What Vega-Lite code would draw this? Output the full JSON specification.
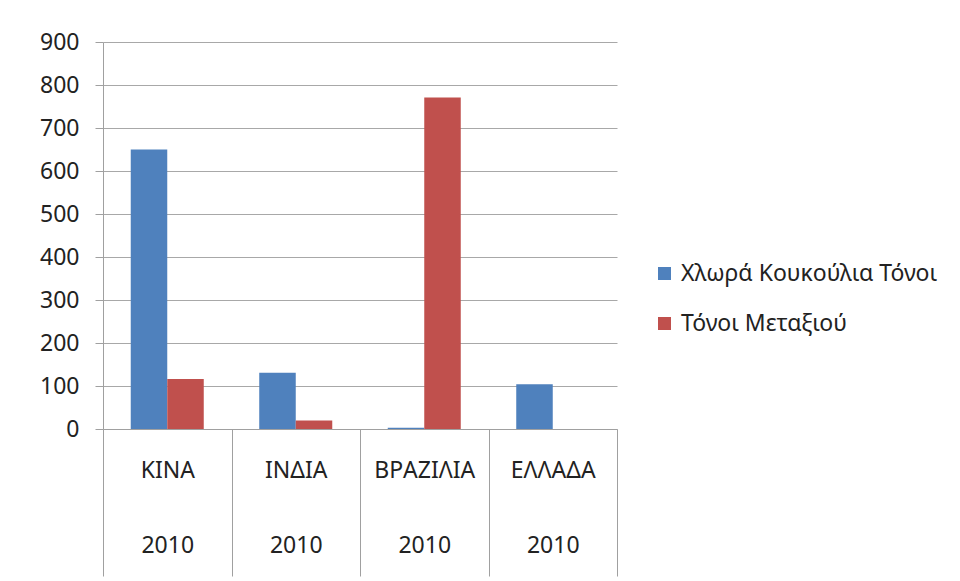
{
  "$schema": "https://vega.github.io/schema/vega-lite/v6.json",
  "width": 514,
  "height": 387,
  "autosize": {"type": "none"},
  "padding": {"left": 103, "top": 42, "right": 343, "bottom": 152},
  "background": "white",
  "data": {
    "values": [
      {"country": "ΚΙΝΑ", "year": "2010", "series": "Χλωρά Κουκούλια Τόνοι", "tons": 650},
      {"country": "ΚΙΝΑ", "year": "2010", "series": "Τόνοι Μεταξιού", "tons": 116},
      {"country": "ΙΝΔΙΑ", "year": "2010", "series": "Χλωρά Κουκούλια Τόνοι", "tons": 131},
      {"country": "ΙΝΔΙΑ", "year": "2010", "series": "Τόνοι Μεταξιού", "tons": 20},
      {"country": "ΒΡΑΖΙΛΙΑ", "year": "2010", "series": "Χλωρά Κουκούλια Τόνοι", "tons": 3},
      {"country": "ΒΡΑΖΙΛΙΑ", "year": "2010", "series": "Τόνοι Μεταξιού", "tons": 771},
      {"country": "ΕΛΛΑΔΑ", "year": "2010", "series": "Χλωρά Κουκούλια Τόνοι", "tons": 104},
      {"country": "ΕΛΛΑΔΑ", "year": "2010", "series": "Τόνοι Μεταξιού", "tons": 0}
    ]
  },
  "transform": [
    {"calculate": "datum.country + '|' + datum.year", "as": "category"}
  ],
  "mark": {"type": "bar"},
  "encoding": {
    "x": {
      "field": "category",
      "type": "nominal",
      "sort": null,
      "scale": {"paddingInner": 0, "paddingOuter": 0},
      "axis": {
        "title": null,
        "labelAngle": 0,
        "labelExpr": "split(datum.label, '|')",
        "labelLineHeight": 75,
        "labelBaseline": "top",
        "labelPadding": -117,
        "labelFont": "Noto Sans",
        "labelFontSize": 23,
        "labelColor": "#222222",
        "tickBand": "extent",
        "tickSize": 147,
        "tickColor": "#A0A0A0",
        "domainColor": "#A0A0A0",
        "grid": false
      }
    },
    "xOffset": {
      "field": "series",
      "type": "nominal",
      "sort": ["Χλωρά Κουκούλια Τόνοι", "Τόνοι Μεταξιού"],
      "scale": {"paddingInner": 0, "paddingOuter": 0.76}
    },
    "y": {
      "field": "tons",
      "type": "quantitative",
      "scale": {"domain": [0, 900], "nice": false},
      "axis": {
        "title": null,
        "values": [0, 100, 200, 300, 400, 500, 600, 700, 800, 900],
        "labelFont": "Noto Sans",
        "labelFontSize": 23,
        "labelColor": "#222222",
        "labelPadding": 16,
        "tickSize": 8,
        "tickColor": "#A0A0A0",
        "domainColor": "#A0A0A0",
        "gridColor": "#A8A8A8",
        "grid": true
      }
    },
    "color": {
      "field": "series",
      "type": "nominal",
      "scale": {
        "domain": ["Χλωρά Κουκούλια Τόνοι", "Τόνοι Μεταξιού"],
        "range": ["#4F81BD", "#C0504D"]
      },
      "legend": {
        "title": null,
        "orient": "none",
        "legendX": 550,
        "legendY": 220,
        "labelFont": "Noto Sans",
        "labelFontSize": 23,
        "labelColor": "#222222",
        "labelLimit": 0,
        "symbolType": "square",
        "symbolSize": 169,
        "symbolStrokeWidth": 0,
        "rowPadding": 26,
        "labelOffset": 5
      }
    }
  },
  "config": {"view": {"stroke": null}}
}
